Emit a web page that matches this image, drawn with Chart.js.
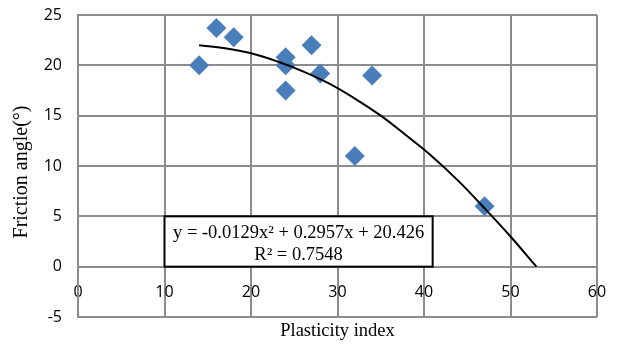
<!DOCTYPE html>
<html>
<head>
<meta charset="utf-8">
<script src="https://cdn.jsdelivr.net/npm/chart.js@4/dist/chart.umd.min.js"></script>
<style>
html,body{margin:0;padding:0;background:#fff;}
#wrap{width:619px;height:345px;position:relative;}
</style>
</head>
<body>
<div id="wrap"><canvas id="c" width="619" height="345"></canvas></div>
<script>
// Observed data: plasticity index vs friction angle
const plasticityIndex = [14, 16, 18, 24, 24, 24, 27, 28, 34, 32, 47];
const frictionAngle   = [20, 23.7, 22.8, 20.8, 20, 17.5, 22, 19.2, 19, 11, 6];

// Polynomial trendline
const trendX = [14, 17, 20, 23, 26, 29, 32, 35, 38, 41, 44, 47, 50, 53];
const trendY = [22.0, 21.7, 21.2, 20.4, 19.4, 18.2, 16.7, 15.0, 13.0, 10.9, 8.5, 5.8, 3.0, 0];

const xTicks = [0, 10, 20, 30, 40, 50, 60];
const yTicks = [-5, 0, 5, 10, 15, 20, 25];

const equationText = 'y = -0.0129x\u00B2 + 0.2957x + 20.426';
const r2Text = 'R\u00B2 = 0.7548';
const xTitle = 'Plasticity index';
const yTitle = 'Friction angle(\u00B0)';

const points = plasticityIndex.map((x, i) => ({x, y: frictionAngle[i]}));
const trend = trendX.map((x, i) => ({x, y: trendY[i]}));

const gridColor = '#8c8c8c';
const serif = '"Liberation Serif", "Times New Roman", serif';

const overlay = {
  id: 'overlay',
  afterDatasetsDraw(chart) {
    const ctx = chart.ctx;
    const xs = chart.scales.x, ys = chart.scales.y;
    const ca = chart.chartArea;
    // equation box
    const bx0 = xs.getPixelForValue(10), bx1 = xs.getPixelForValue(41);
    const by0 = ys.getPixelForValue(5), by1 = ys.getPixelForValue(0);
    ctx.save();
    ctx.fillStyle = '#fff';
    ctx.fillRect(bx0, by0, bx1 - bx0, by1 - by0);
    ctx.strokeStyle = '#000';
    ctx.lineWidth = 2;
    ctx.strokeRect(bx0, by0, bx1 - bx0, by1 - by0);
    ctx.fillStyle = '#000';
    ctx.font = '18.5px ' + serif;
    ctx.textAlign = 'center';
    ctx.textBaseline = 'middle';
    const cx = (bx0 + bx1) / 2;
    ctx.fillText(equationText, cx, by0 + 17);
    ctx.fillText(r2Text, cx, by0 + 39);
    // axis titles
    ctx.fillText(xTitle, (ca.left + ca.right) / 2, 331);
    ctx.translate(22, 172);
    ctx.rotate(-Math.PI / 2);
    ctx.font = '20px ' + serif;
    ctx.fillText(yTitle, 0, 0);
    ctx.restore();
  }
};

new Chart(document.getElementById('c'), {
  type: 'scatter',
  data: {
    datasets: [
      {
        data: points,
        pointStyle: 'rectRot',
        pointRadius: 10,
        pointHoverRadius: 10,
        backgroundColor: '#4a7ebb',
        borderColor: '#4a7ebb',
        borderWidth: 0,
        order: 1
      },
      {
        data: trend,
        showLine: true,
        pointRadius: 0,
        borderColor: '#000',
        borderWidth: 2,
        tension: 0.4,
        fill: false,
        order: 0
      }
    ]
  },
  options: {
    responsive: false,
    animation: false,
    events: [],
    layout: { padding: { left: 20, right: 22, top: 15, bottom: 28 } },
    plugins: { legend: { display: false }, tooltip: { enabled: false } },
    scales: {
      x: {
        type: 'linear',
        position: { y: 0 },
        min: 0, max: 60,
        afterBuildTicks: s => { s.ticks = xTicks.map(v => ({value: v})); },
        afterFit: s => { s.paddingLeft = 0; s.paddingRight = 0; },
        grid: { color: gridColor, lineWidth: 2, drawTicks: false },
        border: { color: gridColor, width: 2 },
        ticks: { padding: 16, color: '#000', font: { family: '"Open Sans", sans-serif', size: 16 } }
      },
      y: {
        type: 'linear',
        min: -5, max: 25,
        afterBuildTicks: s => { s.ticks = yTicks.map(v => ({value: v})); },
        afterFit: s => { s.width = 58; s.paddingTop = 0; s.paddingBottom = 0; },
        grid: { color: gridColor, lineWidth: 2, drawTicks: false },
        border: { color: gridColor, width: 2 },
        ticks: { padding: 16, color: '#000', font: { family: '"Open Sans", sans-serif', size: 16 } }
      }
    }
  },
  plugins: [overlay]
});
</script>
</body>
</html>
